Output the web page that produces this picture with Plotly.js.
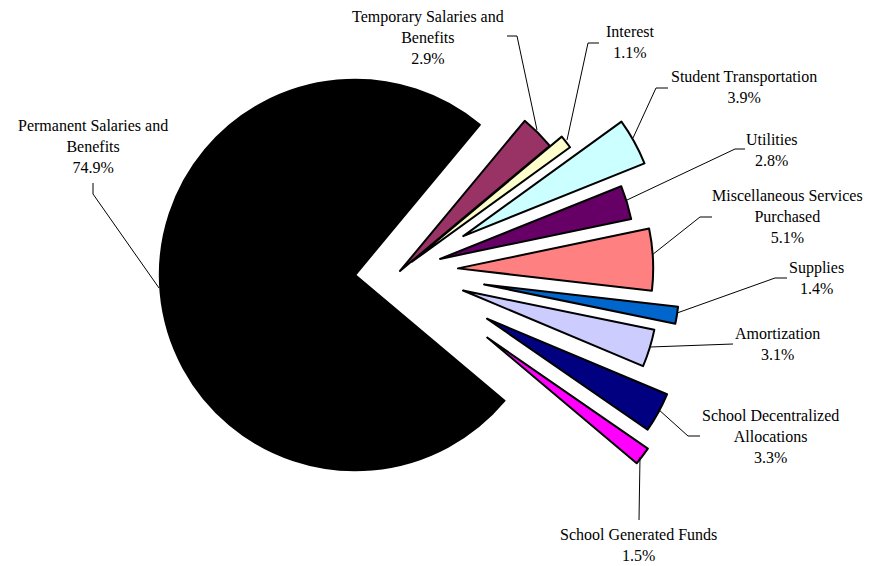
<!DOCTYPE html>
<html>
<head>
<meta charset="utf-8">
<script src="https://cdn.plot.ly/plotly-3.0.1.min.js"></script>
<style>
html, body { margin: 0; padding: 0; overflow: hidden; background: #ffffff; width: 881px; height: 566px; }
#chart { position: absolute; left: 0; top: -34px; width: 881px; height: 610px; }
</style>
</head>
<body>
<div id="chart"></div>
<script>
// ---- data ----
const categories = [
  "Temporary Salaries and Benefits",
  "Interest",
  "Student Transportation",
  "Utilities",
  "Miscellaneous Services Purchased",
  "Supplies",
  "Amortization",
  "School Decentralized Allocations",
  "School Generated Funds",
  "Permanent Salaries and Benefits"
];
const values = [2.9, 1.1, 3.9, 2.8, 5.1, 1.4, 3.1, 3.3, 1.5, 74.9];
const labelLines = [
  "Temporary Salaries and<br>Benefits",
  "Interest",
  "Student Transportation",
  "Utilities",
  "Miscellaneous Services<br>Purchased",
  "Supplies",
  "Amortization",
  "School Decentralized<br>Allocations",
  "School Generated Funds",
  "Permanent Salaries and<br>Benefits"
];

// ---- styling ----
const colors = ["#993366", "#FFFFCC", "#CCFFFF", "#660066", "#FF8080",
                "#0066CC", "#CCCCFF", "#000080", "#FF00FF", "#000000"];
const pulls = [0, 0.077, 0.37, 0.214, 0.297, 0.436, 0.338, 0.508, 0.562, 0.231];

// label centres (viewport px)
const labelPos = [
  [428, 37], [630, 42], [744, 87.5], [772, 150], [787, 216],
  [816, 278], [777, 344], [770, 436], [638, 545], [93, 147]
];
// leader lines (viewport px)
const leaders = [
  [[507, 36], [517, 36], [537, 130]],
  [[599, 43], [588, 43], [567, 140]],
  [[668, 88], [656, 88], [633, 138]],
  [[745, 149], [735, 149], [627, 200]],
  [[712, 217], [700, 217], [652, 255]],
  [[787, 278], [775, 278], [677, 313]],
  [[733, 344], [650, 347]],
  [[700, 436], [688, 436], [658, 409]],
  [[639, 520], [640, 457]],
  [[93, 183], [93, 194], [159, 288]]
];

const W = 881, H = 610, OFF = 34;
const px = v => v / W;
const py = v => 1 - (v + OFF) / H;

const trace = {
  type: "pie",
  labels: categories,
  values: values,
  sort: false,
  direction: "clockwise",
  rotation: 39.7,
  pull: pulls,
  marker: { colors: colors, line: { color: "#000000", width: 2 } },
  textinfo: "none",
  hoverinfo: "none",
  showlegend: false,
  domain: { x: [95 / W, 705 / W], y: [0, 1] }
};

const annotations = categories.map((c, i) => ({
  xref: "paper", yref: "paper",
  x: px(labelPos[i][0]), y: py(labelPos[i][1]),
  xanchor: "center", yanchor: "middle",
  text: labelLines[i] + "<br>" + values[i].toFixed(1) + "%",
  showarrow: false,
  align: "center",
  font: { family: "Liberation Serif, Times New Roman, serif", size: 16, color: "#000000" }
}));

const shapes = leaders.map(pts => ({
  type: "path",
  xref: "paper", yref: "paper",
  path: pts.map((p, j) => (j ? "L " : "M ") + px(p[0]) + " " + py(p[1])).join(" "),
  line: { color: "#000000", width: 1 }
}));

const layout = {
  width: W, height: H,
  margin: { l: 0, r: 0, t: 0, b: 0, pad: 0 },
  paper_bgcolor: "#ffffff",
  plot_bgcolor: "#ffffff",
  showlegend: false,
  font: { family: "Liberation Serif, Times New Roman, serif", size: 16, color: "#000000" },
  annotations: annotations,
  shapes: shapes
};

Plotly.newPlot("chart", [trace], layout, { staticPlot: true, displayModeBar: false });
</script>
</body>
</html>
